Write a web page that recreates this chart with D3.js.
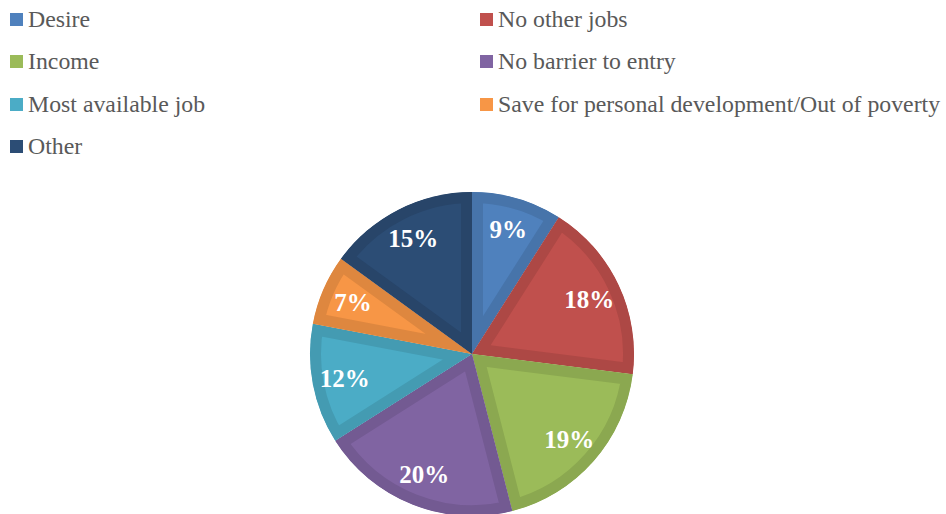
<!DOCTYPE html>
<html><head><meta charset="utf-8">
<script src="https://cdn.jsdelivr.net/npm/d3@7"></script>
<style>body{margin:0;background:#fff}svg{display:block}
text{font-family:"Liberation Serif","Times New Roman",Times,serif;}
</style>
</head><body>
<svg id="chart" width="946" height="514"></svg>
<script>
const categories = ["Desire","No other jobs","Income","No barrier to entry","Most available job","Save for personal development/Out of poverty","Other"];
const values = [9,18,19,20,12,7,15];
const fillColors = ["#4F81BD","#C0504D","#9BBB59","#8064A2","#4BACC6","#F79646","#2C4D75"];
const borderColors = ["#4774AA","#AD4845","#8BA850","#735A92","#449BB2","#DE873F","#284569"];

const svg = d3.select("#chart");
const cx = 472, cy = 354, R = 162;

const pie = d3.pie().sort(null).value(d => d)(values);
const arc = d3.arc().innerRadius(0).outerRadius(R);
const labelArc = d3.arc().innerRadius(R*0.8).outerRadius(R*0.8);

const g = svg.append("g").attr("transform", `translate(${cx},${cy})`);
const defs = svg.append("defs");
pie.forEach((p,i) => {
  defs.append("clipPath").attr("id","clip"+i).append("path").attr("d", arc(p));
});
g.selectAll("path.slice").data(pie).join("path")
  .attr("class","slice")
  .attr("d", arc)
  .attr("fill", (d,i) => fillColors[i])
  .attr("stroke", (d,i) => borderColors[i])
  .attr("stroke-width", 22)
  .attr("stroke-linejoin","miter")
  .attr("clip-path", (d,i) => `url(#clip${i})`);

g.selectAll("text.lbl").data(pie).join("text")
  .attr("class","lbl")
  .attr("transform", d => `translate(${labelArc.centroid(d)})`)
  .attr("text-anchor","middle")
  .attr("dy","0.35em")
  .attr("fill","#fff")
  .attr("font-weight","bold")
  .attr("font-size","25px")
  .text((d,i) => values[i] + "%");

// legend
const colX = [10, 480];
const rowY = [19, 61, 104, 146];
const leg = svg.append("g");
categories.forEach((c,i) => {
  const x = colX[i % 2], y = rowY[Math.floor(i/2)];
  leg.append("rect").attr("x", x).attr("y", y-6).attr("width", 13).attr("height", 13).attr("fill", fillColors[i]);
  leg.append("text").attr("x", x+18).attr("y", y).attr("dy","0.35em")
    .attr("fill","#595959")
    .attr("font-size","23.8px")
    .text(c);
});
</script>
</body></html>
